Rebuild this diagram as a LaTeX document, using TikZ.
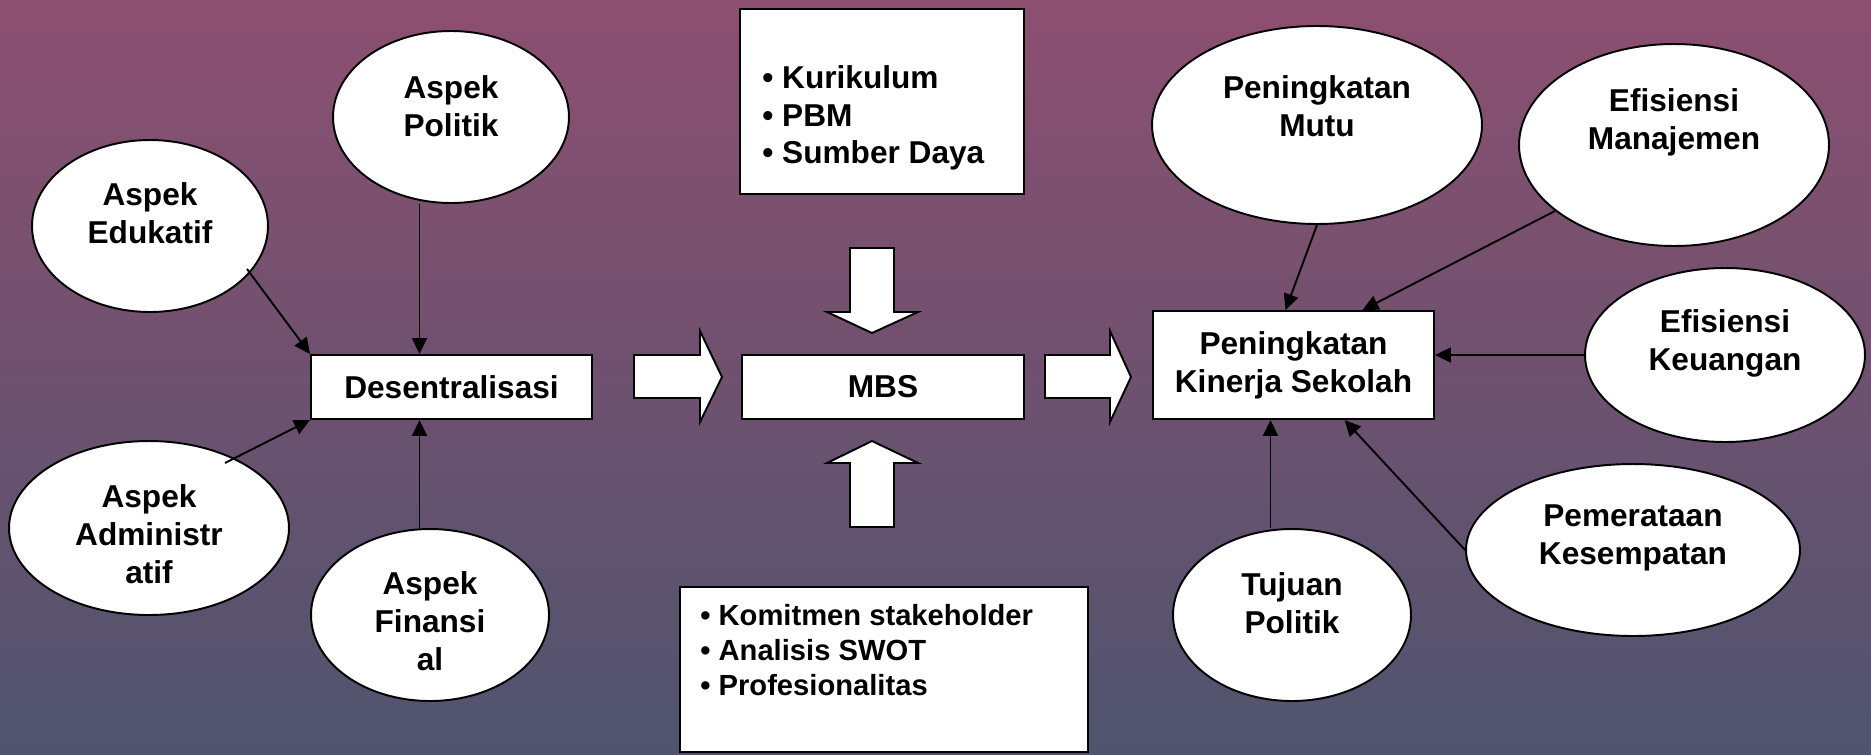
\documentclass[tikz,border=0pt]{standalone}
\usepackage{fontspec}
\setmainfont{Liberation Sans}
\usetikzlibrary{shapes.geometric,arrows.meta,calc}
\definecolor{warnaatas}{RGB}{141,79,112}
\definecolor{warnabawah}{RGB}{79,84,110}
\newcommand{\tekbesar}{\bfseries\fontsize{18}{21.5}\selectfont}
\newcommand{\tekkecil}{\bfseries\fontsize{16.6}{19.9}\selectfont}
\tikzset{
  bulat/.style={ellipse, draw, fill=white, line width=1.1pt, inner sep=0pt},
  kotak/.style={rectangle, draw, fill=white, line width=1.1pt, inner sep=0pt, font=\tekbesar},
  tulisan/.style={font=\tekbesar, align=center, inner sep=0pt},
  panah/.style={line width=1.1pt, -{Triangle[length=0.32cm,width=0.30cm]}},
  blok/.style={draw, fill=white, line width=1.1pt, line join=miter},
}
\begin{document}
\begin{tikzpicture}[x=0.02cm,y=-0.02cm]
\shade[top color=warnaatas, bottom color=warnabawah] (0,0) rectangle (1871,754);
\useasboundingbox (0,0) rectangle (1871,754);
\node[kotak, minimum width=5.62cm, minimum height=1.28cm] (desentral) at (451.5,387) {Desentralisasi};
\node[kotak, minimum width=5.64cm, minimum height=1.28cm] (mbs) at (883,387) {MBS};
\node[kotak, minimum width=5.62cm, minimum height=2.16cm, align=center] (kinerja) at (1293.5,365) {Peningkatan\\Kinerja Sekolah};
\node[kotak, minimum width=5.68cm, minimum height=3.70cm] (kotakatas) at (882,101.5) {};
\node[kotak, minimum width=8.16cm, minimum height=3.30cm] (kotakbawah) at (884,669.5) {};
\node[anchor=west, align=left, font=\tekbesar, inner sep=0pt] (isiatas) at (762,118) {\textbullet\ Kurikulum\\\textbullet\ PBM\\\textbullet\ Sumber Daya};
\node[anchor=west, align=left, font=\tekkecil, inner sep=0pt] (isibawah) at (700,650) {\textbullet\ Komitmen stakeholder\\\textbullet\ Analisis SWOT\\\textbullet\ Profesionalitas};
\node[bulat, minimum width=4.72cm, minimum height=3.44cm, label={[tulisan, yshift=0.26cm]center:Aspek\\Edukatif}] (edukatif) at (150,226) {};
\node[bulat, minimum width=4.72cm, minimum height=3.44cm, label={[tulisan, yshift=0.22cm]center:Aspek\\Politik}] (politik) at (451,117) {};
\node[bulat, minimum width=5.60cm, minimum height=3.48cm, label={[tulisan, yshift=-0.12cm]center:Aspek\\Administr\\atif}] (administratif) at (149,528) {};
\node[bulat, minimum width=4.76cm, minimum height=3.44cm, label={[tulisan, yshift=-0.12cm]center:Aspek\\Finansi\\al}] (finansial) at (430,615) {};
\node[bulat, minimum width=6.60cm, minimum height=3.96cm, label={[tulisan, yshift=0.38cm]center:Peningkatan\\Mutu}] (mutu) at (1317,125) {};
\node[bulat, minimum width=6.20cm, minimum height=4.04cm, label={[tulisan, yshift=0.46cm]center:Efisiensi\\Manajemen}] (manajemen) at (1674,145) {};
\node[bulat, minimum width=5.60cm, minimum height=3.48cm, label={[tulisan, yshift=0.24cm]center:Efisiensi\\Keuangan}] (keuangan) at (1725,355) {};
\node[bulat, minimum width=6.68cm, minimum height=3.44cm, label={[tulisan, yshift=0.24cm]center:Pemerataan\\Kesempatan}] (pemerataan) at (1633,550) {};
\node[bulat, minimum width=4.76cm, minimum height=3.44cm, label={[tulisan, yshift=0.24cm]center:Tujuan\\Politik}] (tujuan) at (1292,615) {};
\coordinate (ujungpol) at ($(desentral.north)+(-32,0)$);
\coordinate (ujungfin) at ($(desentral.south)+(-32,0)$);
\coordinate (ujungmutu) at ($(kinerja.north)+(-8,0)$);
\coordinate (ujungman) at ($(kinerja.north)+(69,0)$);
\coordinate (ujungpem) at ($(kinerja.south)+(51,0)$);
\coordinate (ujungtuj) at ($(kinerja.south)+(-23,0)$);
\draw[panah] (politik.south -| ujungpol) -- (ujungpol);
\draw[panah] ($(edukatif.center)+(97,43)$) -- (desentral.north west);
\draw[panah] ($(administratif.center)+(76,-65)$) -- (desentral.south west);
\draw[panah] (finansial.north -| ujungfin) -- (ujungfin);
\draw[panah] (mutu.south) -- (ujungmutu);
\draw[panah] (manajemen.209) -- (ujungman);
\draw[panah] (keuangan.west) -- (keuangan.west -| kinerja.east);
\draw[panah] (pemerataan.west) -- (ujungpem);
\draw[panah] (tujuan.north -| ujungtuj) -- (ujungtuj);
\draw[blok] (634,355) -- (700,355) -- (700,331) -- (722,377) -- (700,422) -- (700,398) -- (634,398) -- cycle;
\draw[blok] (1045,355) -- (1110,355) -- (1110,331) -- (1131,377) -- (1110,422) -- (1110,398) -- (1045,398) -- cycle;
\draw[blok] (850,248) -- (894,248) -- (894,312) -- (918,312) -- (872,333) -- (827,312) -- (850,312) -- cycle;
\draw[blok] (850,527) -- (894,527) -- (894,463) -- (918,463) -- (872,441) -- (827,463) -- (850,463) -- cycle;
\end{tikzpicture}
\end{document}
